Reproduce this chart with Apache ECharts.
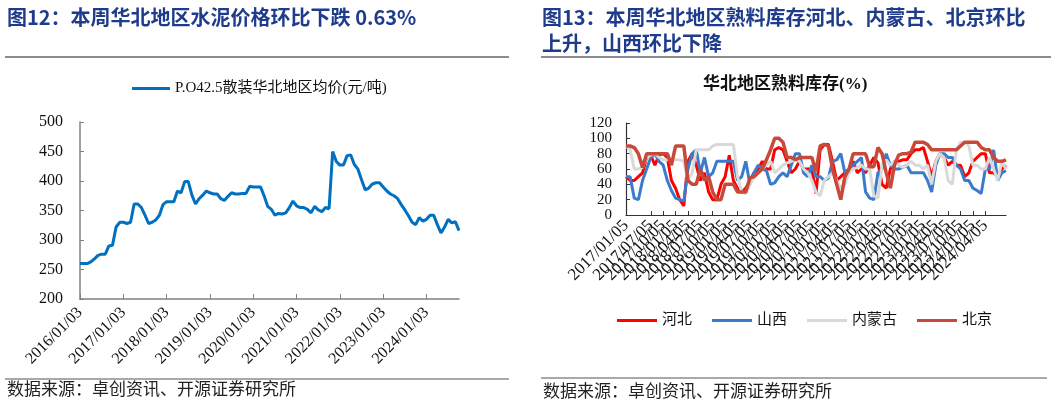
<!DOCTYPE html>
<html><head><meta charset="utf-8">
<script src="https://cdn.jsdelivr.net/npm/echarts@6/dist/echarts.min.js"></script>
<style>html,body{margin:0;padding:0;background:#fff}#c{width:1057px;height:405px}</style>
</head><body><div id="c"></div>
<script>
const SERIF = '"Liberation Serif","Noto Sans CJK SC",serif';
const CJK = '"Noto Sans CJK SC","Liberation Serif",sans-serif';

// ---- Left chart: monthly categories (2016/01/03 .. 2024/10/03)
const leftCategories = [];
for (let y = 2016; y <= 2024; y++) for (let m = 1; m <= 12; m++) {
  if (y === 2024 && m > 10) break;
  leftCategories.push(y + '/' + String(m).padStart(2, '0') + '/03');
}
const priceName = 'P.O42.5散装华北地区均价(元/吨)';
const priceValues = [
  260,260,260,263,268,274,276,276,290,291,322,330,
  330,328,330,361,361,355,342,328,330,334,342,360,
  365,365,365,383,380,399,399,376,361,370,376,383,
  380,378,378,370,367,374,380,378,378,379,379,391,
  390,390,390,375,357,352,342,345,344,346,355,366,
  358,355,355,352,346,357,351,348,355,353,450,433,
  427,427,443,444,428,420,402,385,388,395,397,397,
  390,383,378,375,370,360,351,341,330,326,338,332,
  335,342,342,326,312,322,335,329,331,316
];

// ---- Right chart: monthly categories (2017/01/05 .. 2024/09/05)
const rightCategories = [];
for (let y = 2017; y <= 2024; y++) for (let m = 1; m <= 12; m++) {
  if (y === 2024 && m > 9) break;
  rightCategories.push(y + '/' + String(m).padStart(2, '0') + '/05');
}
const hebei = [
  50,45,45,50,55,75,78,65,78,80,75,45,
  35,20,12,70,80,65,45,55,30,20,20,40,
  50,78,45,35,30,35,45,55,60,70,60,60,
  85,88,85,70,55,60,70,60,60,60,28,85,
  92,92,70,45,50,55,60,70,55,60,55,65,
  75,68,40,35,60,70,70,72,72,80,85,85,
  88,70,50,70,80,75,65,70,65,65,50,55,
  70,75,80,80,55,55,50,60,65
];
const shanxi = [
  50,50,22,20,45,60,75,80,70,65,45,32,
  22,20,18,60,80,85,55,75,50,55,70,70,
  70,70,70,45,50,70,40,55,65,60,58,40,
  42,50,55,50,65,80,80,55,50,65,50,50,
  45,48,70,72,80,55,60,65,70,75,30,22,
  20,55,60,80,65,60,60,62,65,55,55,55,
  55,45,30,65,80,80,75,75,65,60,45,45,
  35,32,28,60,60,85,45,55,58
];
const neimenggu = [
  90,85,60,60,62,75,78,80,75,72,72,72,
  72,72,70,45,55,85,85,85,85,90,92,92,
  92,92,92,50,30,28,40,50,55,60,65,70,
  55,60,65,68,70,72,70,60,55,45,30,25,
  45,50,55,45,35,40,55,60,62,65,60,60,
  25,22,65,72,65,70,65,62,65,70,65,65,
  60,65,40,70,80,75,45,40,85,95,95,90,
  65,65,60,60,75,60,45,70,60
];
const beijing = [
  90,90,88,80,62,80,80,80,80,80,80,65,
  90,90,90,45,40,40,60,45,50,30,20,20,
  40,40,40,30,30,30,48,50,55,60,72,85,
  100,100,95,75,75,72,75,75,75,75,57,90,
  92,90,60,40,20,50,60,80,80,80,80,63,
  63,88,80,55,35,65,78,80,80,82,95,95,
  95,92,85,85,85,85,85,85,85,90,95,95,
  95,95,88,85,85,75,70,70,72
];
const rightNames = ['河北','山西','内蒙古','北京'];
const rightColors = ['#ff0000','#3a7bcc','#d9d9d9','#c8493a'];
const rightData = [hebei, shanxi, neimenggu, beijing];

const TITLE_COLOR = '#1f3c8c';
const axisColor = '#808080';

const chart = echarts.init(document.getElementById('c'), null, {renderer: 'canvas'});
const option = {
  animation: false,
  backgroundColor: '#fff',
  textStyle: {fontFamily: SERIF},
  legend: [
    {
      data: [priceName], left: 127, top: 76, itemWidth: 38, itemHeight: 3, icon: 'rect',
      itemGap: 10, textStyle: {fontSize: 15, color: '#111', fontFamily: SERIF}
    },
    {
      data: rightNames, left: 612, top: 308, itemWidth: 40, itemHeight: 3, icon: 'rect',
      itemGap: 20, textStyle: {fontSize: 15, color: '#111', fontFamily: SERIF}
    }
  ],
  grid: [
    {left: 80, top: 122, width: 379, height: 177, containLabel: false},
    {left: 626, top: 123, width: 380, height: 92, containLabel: false}
  ],
  xAxis: [
    {
      type: 'category', gridIndex: 0, data: leftCategories, boundaryGap: false,
      axisLine: {lineStyle: {color: axisColor, width: 1.5}},
      axisTick: {inside: true, interval: 11, length: 5, lineStyle: {color: axisColor}},
      axisLabel: {interval: 11, rotate: 45, fontSize: 16, color: '#111', margin: 11, fontFamily: SERIF,
                  showMinLabel: true, hideOverlap: false},
      splitLine: {show: false}
    },
    {
      type: 'category', gridIndex: 1, data: rightCategories, boundaryGap: false,
      axisLine: {lineStyle: {color: '#333', width: 1.2}},
      axisTick: {inside: true, interval: 2, length: 4, lineStyle: {color: '#333'}},
      axisLabel: {interval: 2, rotate: 45, fontSize: 17, color: '#111', margin: 8, fontFamily: SERIF,
                  showMinLabel: true, hideOverlap: false},
      splitLine: {show: false}
    }
  ],
  yAxis: [
    {
      type: 'value', gridIndex: 0, min: 200, max: 500, interval: 50,
      axisLine: {show: true, lineStyle: {color: axisColor, width: 1.5}},
      axisTick: {show: true, inside: true, length: 4, lineStyle: {color: axisColor}},
      axisLabel: {fontSize: 16, color: '#111', margin: 17, fontFamily: SERIF,
                  showMinLabel: true, showMaxLabel: true, hideOverlap: false},
      splitLine: {show: false}
    },
    {
      type: 'value', gridIndex: 1, min: 0, max: 120, interval: 20,
      axisLine: {show: true, lineStyle: {color: '#333', width: 1.2}},
      axisTick: {show: true, inside: true, length: 4, lineStyle: {color: '#333'}},
      axisLabel: {fontSize: 15, color: '#111', margin: 14, fontFamily: SERIF,
                  showMinLabel: true, showMaxLabel: true, hideOverlap: false},
      splitLine: {show: false}
    }
  ],
  series: [
    {
      name: priceName, type: 'line', xAxisIndex: 0, yAxisIndex: 0, data: priceValues,
      symbol: 'none', lineStyle: {color: '#0070c0', width: 3}, itemStyle: {color: '#0070c0'}
    }
  ].concat(rightNames.map((n, i) => ({
    name: n, type: 'line', xAxisIndex: 1, yAxisIndex: 1, data: rightData[i],
    symbol: 'none', lineStyle: {color: rightColors[i], width: i === 3 ? 3.5 : 3},
    itemStyle: {color: rightColors[i]}
  }))),
  graphic: [
    {type: 'text', left: 7, top: 7, style: {text: '图12：本周华北地区水泥价格环比下跌 0.63%', fill: TITLE_COLOR, font: 'bold 20px ' + CJK}},
    {type: 'text', left: 542, top: 7, style: {text: '图13：本周华北地区熟料库存河北、内蒙古、北京环比', fill: TITLE_COLOR, font: 'bold 20px ' + CJK}},
    {type: 'text', left: 542, top: 33, style: {text: '上升，山西环比下降', fill: TITLE_COLOR, font: 'bold 20px ' + CJK}},
    {type: 'line', shape: {x1: 5, y1: 57, x2: 509, y2: 57}, style: {stroke: '#8c8c8c', lineWidth: 2}},
    {type: 'line', shape: {x1: 541, y1: 57, x2: 1051, y2: 57}, style: {stroke: '#8c8c8c', lineWidth: 2}},
    {type: 'text', left: 703, top: 76, style: {text: '华北地区熟料库存(%)', fill: '#111', font: 'bold 17px ' + SERIF}},
    {type: 'line', shape: {x1: 5, y1: 379, x2: 509, y2: 379}, style: {stroke: '#8c8c8c', lineWidth: 1.5}},
    {type: 'line', shape: {x1: 541, y1: 378, x2: 1047, y2: 378}, style: {stroke: '#8c8c8c', lineWidth: 1.5}},
    {type: 'text', left: 7, top: 380, style: {text: '数据来源：卓创资讯、开源证券研究所', fill: '#222', font: '17px ' + CJK}},
    {type: 'text', left: 543, top: 382, style: {text: '数据来源：卓创资讯、开源证券研究所', fill: '#222', font: '17px ' + CJK}}
  ]
};
chart.setOption(option);
</script>
</body></html>
